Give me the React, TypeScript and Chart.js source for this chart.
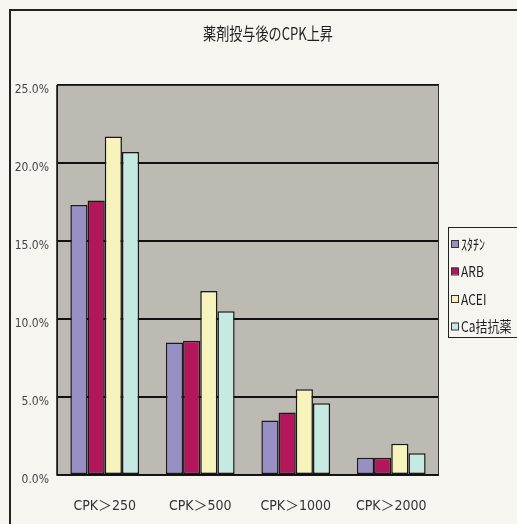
import React, { useEffect, useRef } from "react";
import { Chart, registerables } from "chart.js";

Chart.register(...registerables);

const TITLE = "薬剤投与後のCPK上昇";
const categories = ["CPK＞250", "CPK＞500", "CPK＞1000", "CPK＞2000"];
const seriesNames = ["ｽﾀﾁﾝ", "ARB", "ACEI", "Ca拮抗薬"];
const statin = [17.3, 8.5, 3.5, 1.1];
const arb = [17.6, 8.6, 4.0, 1.1];
const acei = [21.7, 11.8, 5.5, 2.0];
const caBlocker = [20.7, 10.5, 4.6, 1.4];
const seriesColors = ["#988fc4", "#b3175b", "#f6f4bc", "#c6eae2"];
const yMin = 0;
const yMax = 25;
const yStep = 5;

const NARROW = '"Liberation Sans Narrow", "DejaVu Sans Condensed", "Noto Sans CJK JP", sans-serif';
const CJK = '"Noto Sans CJK JP", "Liberation Sans", sans-serif';

const decor = {
  id: "decor",
  beforeDraw(chart: any) {
    const { ctx, chartArea: a } = chart;
    ctx.save();
    ctx.fillStyle = "#f6f5f0";
    ctx.fillRect(0, 0, chart.width, chart.height);
    ctx.strokeStyle = "#222";
    ctx.lineWidth = 2;
    ctx.strokeRect(10, 10, chart.width - 20, chart.height + 40);
    ctx.fillStyle = "#bdbab4";
    ctx.fillRect(a.left, a.top, a.right - a.left, a.bottom - a.top);
    ctx.restore();
  },
  afterDraw(chart: any) {
    const { ctx, chartArea: a } = chart;
    ctx.save();
    // plot border
    ctx.strokeStyle = "#333";
    ctx.lineWidth = 1;
    ctx.strokeRect(a.left + 0.5, a.top + 0.5, a.right - a.left - 1, a.bottom - a.top);
    ctx.lineWidth = 1.5;
    ctx.strokeStyle = "#111";
    ctx.beginPath();
    ctx.moveTo(a.left, a.top);
    ctx.lineTo(a.left, a.bottom);
    ctx.lineTo(a.right, a.bottom);
    ctx.stroke();

    // title
    ctx.fillStyle = "#1e1e1e";
    ctx.textAlign = "center";
    ctx.textBaseline = "middle";
    ctx.font = `17px ${CJK}`;
    ctx.save();
    ctx.translate(268, 34);
    ctx.scale(0.77, 1);
    ctx.fillText(TITLE, 0, 0);
    ctx.restore();

    // legend
    const lx = 448, ly = 227, lw = 90, lh = 110;
    ctx.strokeStyle = "#222";
    ctx.lineWidth = 1;
    ctx.strokeRect(lx + 0.5, ly + 0.5, lw, lh);
    chart.data.datasets.forEach((ds: any, i: number) => {
      const cy = ly + 17 + i * 27.5;
      ctx.fillStyle = ds.backgroundColor;
      ctx.fillRect(451, cy - 4, 7, 7);
      ctx.strokeStyle = "#333";
      ctx.strokeRect(451.5, cy - 3.5, 7, 7);
      ctx.save();
      ctx.translate(461, cy);
      ctx.scale(0.8, 1);
      ctx.font = `15px ${CJK}`;
      ctx.textAlign = "left";
      ctx.textBaseline = "middle";
      ctx.fillStyle = "#1e1e1e";
      ctx.fillText(ds.label, 0, 0);
      ctx.restore();
    });
    ctx.restore();
  },
};

export default function App() {
  const ref = useRef<HTMLCanvasElement | null>(null);
  useEffect(() => {
    if (!ref.current) return;
    const seriesValues = [statin, arb, acei, caBlocker];
    const chart = new Chart(ref.current, {
      type: "bar",
      data: {
        labels: categories,
        datasets: seriesNames.map((name, i) => ({
          label: name,
          data: seriesValues[i],
          backgroundColor: seriesColors[i],
          borderColor: "#1a1a1a",
          borderWidth: 1.5,
          borderSkipped: false,
          categoryPercentage: 0.72,
          barPercentage: 1.0,
        })),
      },
      options: {
        responsive: false,
        animation: false,
        devicePixelRatio: 1,
        layout: { padding: { left: 0, top: 85, right: 97, bottom: 0 } },
        plugins: {
          legend: { display: false },
          title: { display: false },
          tooltip: { enabled: false },
        },
        scales: {
          x: {
            grid: { display: false },
            border: { display: false },
            ticks: {
              color: "#333",
              font: { family: NARROW, size: 14 },
              padding: 15,
              maxRotation: 0,
            },
            afterFit: (s: any) => {
              s.height = 49;
            },
          },
          y: {
            min: yMin,
            max: yMax,
            grid: { color: "#111", lineWidth: 2, drawTicks: false },
            border: { display: false },
            ticks: {
              stepSize: yStep,
              color: "#444",
              font: { family: NARROW, size: 12 },
              padding: 8,
              labelOffset: 5,
              callback: (v: any) => Number(v).toFixed(1) + "%",
            },
            afterFit: (s: any) => {
              s.width = 57;
            },
          },
        },
      },
      plugins: [decor],
    });
    return () => chart.destroy();
  }, []);
  return (
    <div
      style={{
        position: "absolute",
        left: 0,
        top: 0,
        width: 517,
        height: 524,
        overflow: "hidden",
        background: "#f6f5f0",
      }}
    >
      <canvas ref={ref} width={536} height={524} style={{ width: 536, height: 524, display: "block" }} />
    </div>
  );
}
